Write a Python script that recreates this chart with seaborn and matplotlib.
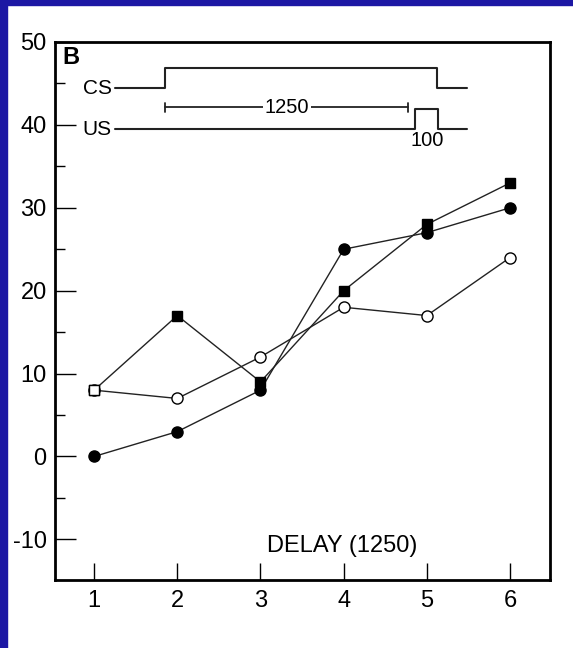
import matplotlib
matplotlib.use("Agg")
import matplotlib.pyplot as plt
import seaborn as sns
from matplotlib.patches import Rectangle

sns.set_style("ticks")
plt.rcParams['font.family'] = ['Liberation Sans', 'DejaVu Sans']
plt.rcParams['text.color'] = 'black'

# data
delay = [1, 2, 3, 4, 5, 6]
squares = [8, 17, 9, 20, 28, 33]          # filled squares (first point open)
open_circles = [8, 7, 12, 18, 17, 24]
filled_circles = [0, 3, 8, 25, 27, 30]

y_ticks = [-10, 0, 10, 20, 30, 40, 50]
x_ticks = [1, 2, 3, 4, 5, 6]

# CS / US timing schematic (drawn in data coords)
cs_x = [1.25, 1.853, 1.853, 5.123, 5.123, 5.483]
cs_y = [44.4, 44.4, 46.9, 46.9, 44.4, 44.4]
us_x = [1.25, 4.858, 4.858, 5.135, 5.135, 5.483]
us_y = [39.5, 39.5, 41.9, 41.9, 39.5, 39.5]
isi_x = [1.853, 4.774]
isi_y = 42.1

fig = plt.figure(figsize=(5.73, 6.48), dpi=100)
fig.patch.set_facecolor('white')
blue = '#1c17a4'
fig.patches.append(Rectangle((0, 0), 7 / 573, 1, transform=fig.transFigure,
                             color=blue, zorder=-10))
fig.patches.append(Rectangle((0, 1 - 5 / 648), 1, 5 / 648, transform=fig.transFigure,
                             color=blue, zorder=-10))

ax = fig.add_axes([55 / 573, 1 - 580 / 648, 495 / 573, 538 / 648])

line_kw = dict(color='#222222', linewidth=1.0, markeredgecolor='black',
               markeredgewidth=1.0, legend=False)
sns.lineplot(x=delay, y=filled_circles, marker='o', markersize=8,
             markerfacecolor='black', ax=ax, **line_kw)
sns.lineplot(x=delay, y=open_circles, marker='o', markersize=8,
             markerfacecolor='white', ax=ax, **line_kw)
sns.lineplot(x=delay, y=squares, marker='s', markersize=7.5,
             markerfacecolor='black', ax=ax, **line_kw)
sns.scatterplot(x=delay[:1], y=squares[:1], marker='s', s=56, color='white',
                edgecolor='black', linewidth=1.0, ax=ax, zorder=5, legend=False)

# schematic
ax.plot(cs_x, cs_y, color='#222222', lw=1.5)
ax.plot(us_x, us_y, color='#222222', lw=1.5)
ax.plot(isi_x, [isi_y, isi_y], color='#222222', lw=1.3)
for xx in isi_x:
    ax.plot([xx, xx], [isi_y - 0.6, isi_y + 0.6], color='#222222', lw=1.3)
ax.text(3.32, isi_y, '1250', fontsize=14.5, ha='center', va='center',
        bbox=dict(facecolor='white', edgecolor='none', pad=1))
ax.text(5.0, 38.1, '100', fontsize=14.5, ha='center', va='center')
ax.text(1.21, 44.4, 'CS', fontsize=15, ha='right', va='center')
ax.text(1.21, 39.5, 'US', fontsize=15, ha='right', va='center')
ax.text(0.615, 48.1, 'B', fontsize=17, fontweight='bold', ha='left', va='center')
ax.text(3.98, -10.8, 'DELAY (1250)', fontsize=17, ha='center', va='center')

ax.set_xlim(0.53, 6.48)
ax.set_ylim(-14.9, 49.7)
ax.set_xticks(x_ticks)
ax.set_yticks(y_ticks)
ax.set_yticks([-5, 5, 15, 25, 35, 45], minor=True)
ax.set_xticklabels([str(v) for v in x_ticks])
ax.set_yticklabels([str(v) for v in y_ticks])
ax.tick_params(axis='both', which='major', direction='in', length=15, width=1.0,
               labelsize=17, colors='black')
ax.tick_params(axis='x', pad=7, top=False, length=12)
ax.tick_params(axis='y', pad=6, right=False)
ax.tick_params(axis='y', which='minor', direction='in', length=7, width=1.0,
               right=False, colors='black')
ax.set_xlabel('')
ax.set_ylabel('')
for s in ax.spines.values():
    s.set_visible(True)
    s.set_linewidth(2.0)
    s.set_color('black')

fig.savefig('out.png', dpi=100, facecolor=fig.get_facecolor())
